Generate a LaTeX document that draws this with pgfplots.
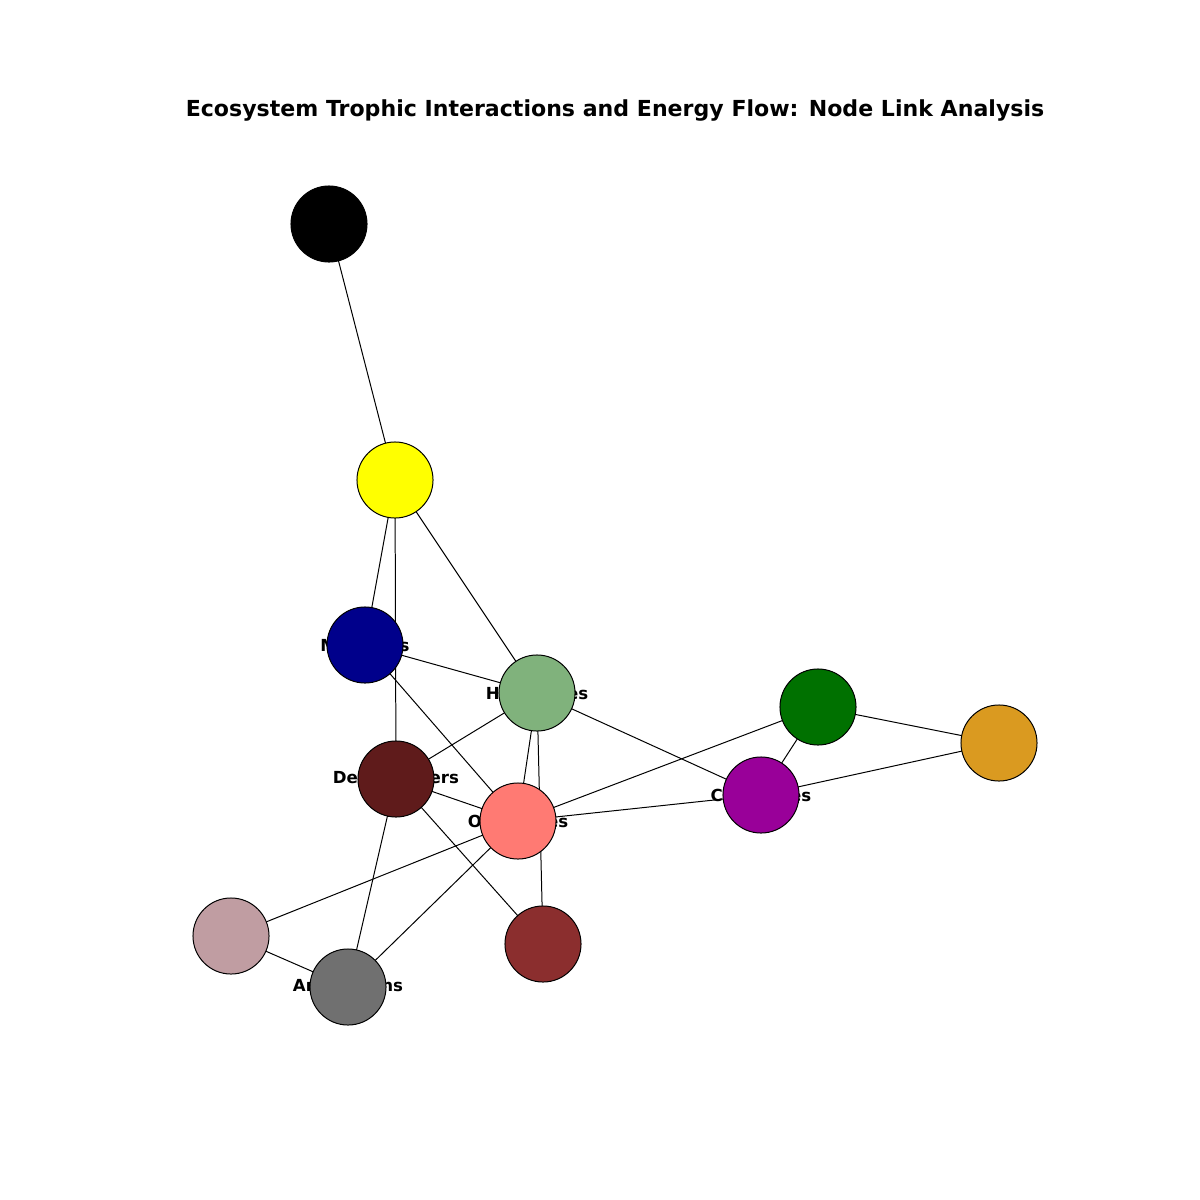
\documentclass[border=0pt]{standalone}
\usepackage{pgfplots}
\pgfplotsset{compat=1.18}
\usepackage{fontspec}
\setmainfont{DejaVu Sans}
\definecolor{cPl}{HTML}{FFFF00}
\definecolor{cMa}{HTML}{00008B}
\definecolor{cHe}{HTML}{80B27C}
\definecolor{cBi}{HTML}{007100}
\definecolor{cFi}{HTML}{DA9A20}
\definecolor{cDe}{HTML}{5F1B1B}
\definecolor{cCa}{HTML}{990099}
\definecolor{cOm}{HTML}{FF7A73}
\definecolor{cRe}{HTML}{C09DA2}
\definecolor{cIn}{HTML}{8B2E2E}
\definecolor{cAm}{HTML}{707070}
\begin{document}
\begin{tikzpicture}
\begin{axis}[scale only axis, width=10in, height=10in, xmin=0, xmax=1200, ymin=0, ymax=1200, y dir=reverse, axis lines=none, clip=false]
\path (axis cs:0,0) (axis cs:1200,1200);
\pgfplotsset{every axis plot/.append style={black, line width=0.6pt}}
\addplot[no marks] coordinates {(329,224) (395,480)};
\addplot[no marks] coordinates {(395,480) (365,645)};
\addplot[no marks] coordinates {(395,480) (537,693)};
\addplot[no marks] coordinates {(395,480) (396,779)};
\addplot[no marks] coordinates {(365,645) (537,693)};
\addplot[no marks] coordinates {(365,645) (518,821)};
\addplot[no marks] coordinates {(537,693) (396,779)};
\addplot[no marks] coordinates {(537,693) (518,821)};
\addplot[no marks] coordinates {(537,693) (543,944)};
\addplot[no marks] coordinates {(537,693) (761,795)};
\addplot[no marks] coordinates {(818,707) (518,821)};
\addplot[no marks] coordinates {(818,707) (999,743)};
\addplot[no marks] coordinates {(818,707) (761,795)};
\addplot[no marks] coordinates {(999,743) (761,795)};
\addplot[no marks] coordinates {(761,795) (518,821)};
\addplot[no marks] coordinates {(396,779) (518,821)};
\addplot[no marks] coordinates {(396,779) (543,944)};
\addplot[no marks] coordinates {(396,779) (348,987)};
\addplot[no marks] coordinates {(518,821) (231,936)};
\addplot[no marks] coordinates {(518,821) (348,987)};
\addplot[no marks] coordinates {(231,936) (348,987)};
\pgfplotsset{nd/.style={only marks, mark=*, mark size=22.9pt, mark options={draw=none, fill=#1}}}
\addplot[nd=black] coordinates {(329,224)};
\addplot[nd=cPl] coordinates {(395,480)};
\addplot[nd=cMa] coordinates {(365,645)};
\addplot[nd=cHe] coordinates {(537,693)};
\addplot[nd=cBi] coordinates {(818,707)};
\addplot[nd=cFi] coordinates {(999,743)};
\addplot[nd=cDe] coordinates {(396,779)};
\addplot[nd=cCa] coordinates {(761,795)};
\addplot[nd=cOm] coordinates {(518,821)};
\addplot[nd=cRe] coordinates {(231,936)};
\addplot[nd=cIn] coordinates {(543,944)};
\addplot[nd=cAm] coordinates {(348,987)};
\foreach \n/\x/\y in {Plants/395/480, Mammals/365/645, Herbivores/537/693, Birds/818/707, Fish/999/743, Decomposers/396/779, Carnivores/761/795, Omnivores/518/821, Reptiles/231/936, Insects/543,944, Amphibians/348/987}{}
\node[font=\bfseries\fontsize{10}{12}\selectfont] at (axis cs:395,480) {Plants};
\node[font=\bfseries\fontsize{10}{12}\selectfont] at (axis cs:365,645) {Mammals};
\node[font=\bfseries\fontsize{10}{12}\selectfont] at (axis cs:537,693) {Herbivores};
\node[font=\bfseries\fontsize{10}{12}\selectfont] at (axis cs:818,707) {Birds};
\node[font=\bfseries\fontsize{10}{12}\selectfont] at (axis cs:999,743) {Fish};
\node[font=\bfseries\fontsize{10}{12}\selectfont] at (axis cs:396,779) {Decomposers};
\node[font=\bfseries\fontsize{10}{12}\selectfont] at (axis cs:761,795) {Carnivores};
\node[font=\bfseries\fontsize{10}{12}\selectfont] at (axis cs:518,821) {Omnivores};
\node[font=\bfseries\fontsize{10}{12}\selectfont] at (axis cs:231,936) {Reptiles};
\node[font=\bfseries\fontsize{10}{12}\selectfont] at (axis cs:543,944) {Insects};
\node[font=\bfseries\fontsize{10}{12}\selectfont] at (axis cs:348,987) {Amphibians};
\node[font=\bfseries\fontsize{13.3}{16}\selectfont] at (axis cs:615,110) {Ecosystem Trophic Interactions and Energy Flow: Node Link Analysis};
\end{axis}
\end{tikzpicture}
\end{document}
